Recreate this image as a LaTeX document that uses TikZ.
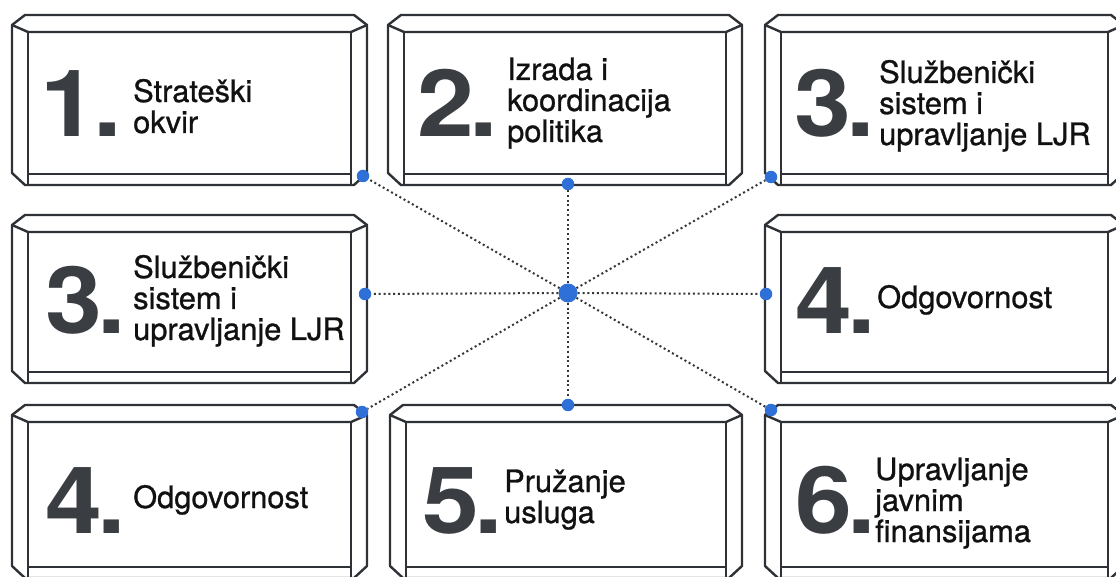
\documentclass[tikz,border=0pt]{standalone}
\usepackage{fontspec}
\setmainfont{TeX Gyre Heros}[FakeBold=0.9]
\newfontfamily\numfont{TeX Gyre Heros}[FakeStretch=1.1]
\definecolor{boxline}{HTML}{2E3236}
\definecolor{numc}{HTML}{3A3D41}
\definecolor{hubblue}{HTML}{2F6FD8}
\definecolor{dotline}{HTML}{353535}
\definecolor{lblc}{HTML}{111111}
\tikzset{
  frame/.style={draw=boxline, line width=2.4pt, line join=round},
  numtxt/.style={anchor=base west, inner sep=0pt, text=numc, font=\numfont\bfseries\fontsize{93}{93}\selectfont},
  lbltxt/.style={anchor=base west, inner sep=0pt, text=lblc, font=\fontsize{30.8}{31}\selectfont},
  port/.style={circle, fill=hubblue, inner sep=0pt, minimum size=12.5pt},
  hubnode/.style={circle, fill=hubblue, inner sep=0pt, minimum size=19pt},
  link/.style={draw=dotline, line width=2pt, dash pattern=on 2pt off 2.8pt},
}
\newcommand\threedbox[4]{%
  \draw[frame] ({#1+13},#2) -- ({#3-13},#2) -- (#3,{#2+10}) -- (#3,{#4-12}) -- ({#3-13},#4) -- ({#1+13},#4) -- (#1,{#4-12}) -- (#1,{#2+10}) -- cycle;
  \draw[frame] (#1,{#2+10}) -- ({#1+16},{#2+17}) -- ({#3-16},{#2+17}) -- (#3,{#2+10});
  \draw[frame] ({#1+16},{#2+17}) -- ({#1+16},#4) ({#3-16},{#2+17}) -- ({#3-16},#4);
  \draw[frame] ({#1+16},{#4-11}) -- ({#3-16},{#4-11});
}
\begin{document}
\begin{tikzpicture}[x=1pt,y=-1pt]
\useasboundingbox (0,0) rectangle (1116,577);
\clip (0,0) rectangle (1116,577);
\fill[white] (0,0) rectangle (1116,577);

% boxes
\threedbox{12}{15}{367}{185}
\threedbox{388}{15}{742}{185}
\threedbox{765}{15}{1124}{185}
\threedbox{12}{215}{367}{383}
\threedbox{765}{215}{1124}{383}
\threedbox{12}{405}{367}{578}
\threedbox{390}{405}{742}{578}
\threedbox{765}{405}{1124}{578}

% numbers
\node[numtxt] (n1) at (40,137) {1\kern-4pt.};
\node[numtxt] (n2) at (417,137) {2\kern-5pt.};
\node[numtxt] (n3a) at (794,137) {3\kern-5pt.};
\node[numtxt] (n3b) at (45,333) {3\kern-5pt.};
\node[numtxt] (n4a) at (795,333) {4\kern-5pt.};
\node[numtxt] (n4b) at (45,533) {4\kern-5pt.};
\node[numtxt] (n5) at (422,533) {5\kern-5pt.};
\node[numtxt] (n6) at (795,533) {6\kern-5pt.};

% labels
\node[lbltxt] (l1) at (133,102) {\vtop{\hbox{Strateški}\hbox{okvir}}};
\node[lbltxt] (l2) at (507,80) {\vtop{\hbox{Izrada i}\hbox{koordinacija}\hbox{politika}}};
\node[lbltxt] (l3a) at (879,83) {\vtop{\hbox{Službenički}\hbox{sistem i}\hbox{upravljanje LJR}}};
\node[lbltxt] (l3b) at (133,278) {\vtop{\hbox{Službenički}\hbox{sistem i}\hbox{upravljanje LJR}}};
\node[lbltxt] (l4a) at (877,308) {Odgovornost};
\node[lbltxt] (l4b) at (133,508) {Odgovornost};
\node[lbltxt] (l5) at (504,492) {\vtop{\hbox{Pružanje}\hbox{usluga}}};
\node[lbltxt] (l6) at (875,480) {\vtop{\hbox{Upravljanje}\hbox{javnim}\hbox{finansijama}}};

% hub and ports
\node[hubnode] (hub) at (568,293) {};
\node[port] (p1) at (363,176) {};
\node[port] (p2) at (568,184) {};
\node[port] (p3) at (771,177) {};
\node[port] (p4) at (365,294) {};
\node[port] (p5) at (766,294) {};
\node[port] (p6) at (362,412) {};
\node[port] (p7) at (568,405) {};
\node[port] (p8) at (771,410) {};
\foreach \p in {p1,p2,p3,p4,p5,p6,p7,p8}{\draw[link] (hub) -- (\p);}
\end{tikzpicture}
\end{document}
